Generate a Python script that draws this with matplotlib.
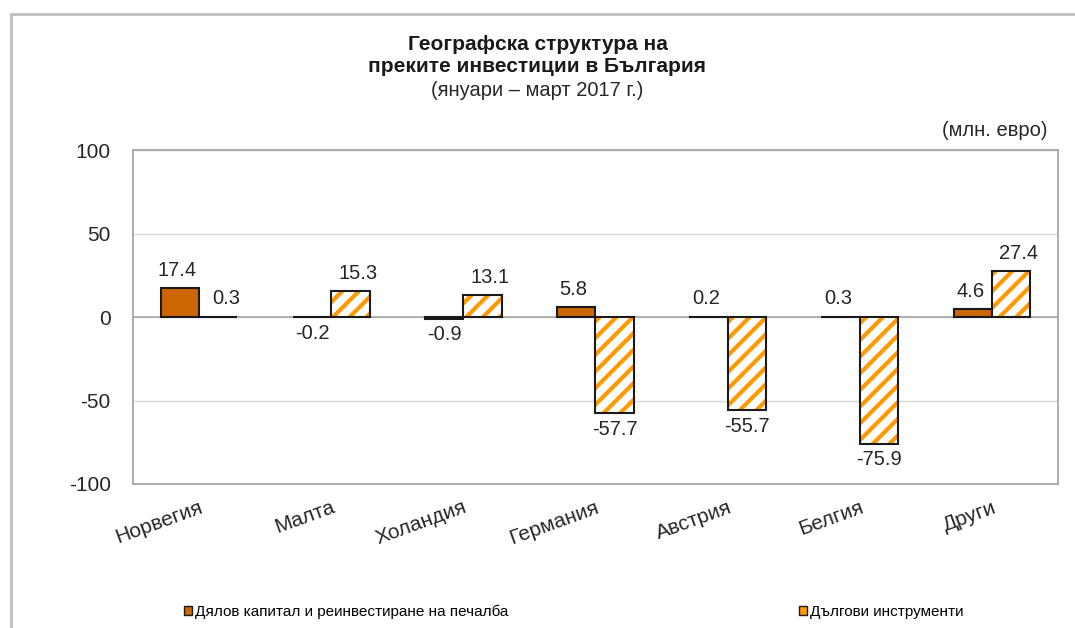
import matplotlib
matplotlib.use("Agg")
import matplotlib.pyplot as plt
from matplotlib.patches import Patch, Rectangle
import numpy as np

plt.rcParams['font.family'] = ['Liberation Sans', 'DejaVu Sans']
plt.rcParams['hatch.linewidth'] = 3.0

countries = ['Норвегия', 'Малта', 'Холандия', 'Германия', 'Австрия', 'Белгия', 'Други']
equity = [17.4, -0.2, -0.9, 5.8, 0.2, 0.3, 4.6]
debt = [0.3, 15.3, 13.1, -57.7, -55.7, -75.9, 27.4]
yticks = [-100, -50, 0, 50, 100]

equity_color = '#CC6600'
hatch_color = '#FF9900'
text_color = '#262626'

fig = plt.figure(figsize=(10.75, 6.28), dpi=100)
ax = fig.add_axes([0.1237, 0.2293, 0.8605, 0.5318])

# frame around the whole chart
fig.patches.append(Rectangle((11 / 1075, -0.1), 1.2, 1 - 14 / 628 + 0.1,
                             transform=fig.transFigure, fill=False,
                             edgecolor='#BFBFBF', linewidth=2))

x = np.arange(len(countries))
w = 0.29

ax.bar(x - w / 2, equity, w, color=equity_color, edgecolor='#1a1a1a',
       linewidth=1.5, zorder=3)
ax.bar(x + w / 2, debt, w, color='white', edgecolor=hatch_color, hatch='//',
       linewidth=0, zorder=3)
ax.bar(x + w / 2, debt, w, fill=False, edgecolor='#1a1a1a', linewidth=1.5,
       zorder=4)

def label(xpos, val, shift):
    if val >= 0:
        ax.text(xpos + shift, val + 5, f'{val:.1f}', ha='center', va='bottom',
                fontsize=14.5, color=text_color)
    else:
        ax.text(xpos, val - 4, f'{val:.1f}', ha='center', va='top',
                fontsize=14.5, color=text_color)

for i in range(len(countries)):
    label(x[i] - w / 2, equity[i], -0.02)
    label(x[i] + w / 2, debt[i], 0.06)

ax.set_xlim(-0.5, len(countries) - 0.5)
ax.set_ylim(-100, 100)
ax.set_yticks(yticks)
ax.set_yticklabels([str(t) for t in yticks], fontsize=15, color=text_color)
ax.tick_params(axis='y', length=0, pad=16)
ax.set_xticks(x)
ax.set_xticklabels(countries, rotation=20, ha='right', rotation_mode='anchor',
                   fontsize=15, color=text_color)
ax.tick_params(axis='x', length=0, pad=10)
ax.grid(axis='y', color='#D9D9D9', linewidth=1, zorder=0)
ax.axhline(0, color='#A6A6A6', linewidth=1.2, zorder=2)
for s in ax.spines.values():
    s.set_color('#A6A6A6')
    s.set_linewidth(1.3)

fig.text(0.5, 1 - 45 / 628, 'Географска структура на', ha='center', va='center',
         fontsize=15, fontweight='bold', color='#1a1a1a')
fig.text(0.5, 1 - 67 / 628, 'преките инвестиции в България', ha='center',
         va='center', fontsize=15, fontweight='bold', color='#1a1a1a')
fig.text(0.5, 1 - 91 / 628, '(януари – март 2017 г.)', ha='center',
         va='center', fontsize=14.5, color=text_color)
fig.text(1048 / 1075, 1 - 130 / 628, '(млн. евро)', ha='right', va='center',
         fontsize=14.5, color=text_color)

handles = [Patch(facecolor=equity_color, edgecolor='#1a1a1a', linewidth=1),
           Patch(facecolor=hatch_color, edgecolor='#1a1a1a', linewidth=1)]
names = ['Дялов капитал и реинвестиране на печалба', 'Дългови инструменти']
fig.legend(handles[:1], names[:1], loc='center left',
           bbox_to_anchor=(170 / 1075, 1 - 612 / 628), frameon=False,
           fontsize=11, handlelength=0.55, handleheight=0.55, handletextpad=0.2)
fig.legend(handles[1:], names[1:], loc='center left',
           bbox_to_anchor=(785 / 1075, 1 - 612 / 628), frameon=False,
           fontsize=11, handlelength=0.55, handleheight=0.55, handletextpad=0.2)

fig.savefig('out.png', dpi=100)
